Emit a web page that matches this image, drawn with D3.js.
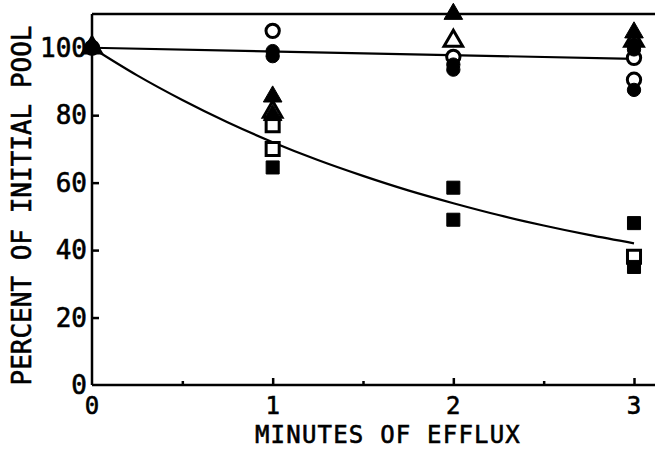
<!DOCTYPE html>
<html><head><meta charset="utf-8">
<script src="https://cdn.jsdelivr.net/npm/d3@7"></script>
<style>body{margin:0;background:#fff}svg text{font-family:"DejaVu Sans Mono",monospace;fill:#000}</style>
</head><body><svg id="c" width="660" height="450"></svg>
<script>
// ---- data ----
const xTicks = [0, 1, 2, 3];
const xMinorTicks = [0.5, 1.5, 2.5];
const yTicks = [0, 20, 40, 60, 80, 100];
const xTitle = "MINUTES OF EFFLUX";
const yTitle = "PERCENT OF INITIAL POOL";

const filledCircleX = [0, 1, 1, 2, 2, 3, 3, 3];
const filledCircleY = [100, 99, 97.5, 95, 93.5, 101, 99.5, 87.5];
const openCircleX = [0, 1, 2, 3, 3];
const openCircleY = [100, 105, 97.3, 97, 90.5];
const filledTriangleX = [0, 1, 1, 2, 3];
const filledTriangleY = [100, 85.5, 80, 110, 104.5];
const openTriangleX = [0, 1, 2, 3];
const openTriangleY = [100, 81, 102, 102];
const filledSquareX = [1, 2, 2, 3, 3];
const filledSquareY = [64.5, 58.5, 49, 48, 35];
const openSquareX = [1, 1, 3];
const openSquareY = [77, 70, 38];

// fitted lines as drawn in the picture
const upperLineX = [0, 3];
const upperLineY = [100, 96.7];
const lowerCurveX = [0, 0.25, 0.5, 0.75, 1, 1.25, 1.5, 1.75, 2, 2.25, 2.5, 2.75, 3];
const lowerCurveY = [100, 91.8, 84.5, 77.9, 72.0, 66.7, 62.0, 57.7, 53.9, 50.4, 47.3, 44.5, 42.0];

// ---- drawing ----
const svg = d3.select("#c");
const x = d3.scaleLinear().domain([0, 3]).range([92, 634]);
const y = d3.scaleLinear().domain([0, 110]).range([385, 14]);
const xEnd = 655;

const g = svg.append("g");
// frame lines
g.append("line").attr("x1", x(0)).attr("x2", xEnd).attr("y1", y(0)).attr("y2", y(0)).attr("stroke", "#000").attr("stroke-width", 2.5);
g.append("line").attr("x1", x(0)).attr("x2", xEnd).attr("y1", y(110)).attr("y2", y(110)).attr("stroke", "#000").attr("stroke-width", 2.5);
g.append("line").attr("x1", x(0)).attr("x2", x(0)).attr("y1", y(0)).attr("y2", y(110)).attr("stroke", "#000").attr("stroke-width", 2.5);

// x axis (ticks inward)
const xAxis = d3.axisTop(x).tickValues(xTicks.filter(d => d > 0)).tickSize(7).tickFormat("");
g.append("g").attr("transform", `translate(0,${y(0)})`).call(xAxis)
  .call(s => { s.select(".domain").remove(); s.selectAll("line").attr("stroke-width", 2.5); });
const xMinor = d3.axisTop(x).tickValues(xMinorTicks).tickSize(4).tickFormat("");
g.append("g").attr("transform", `translate(0,${y(0)})`).call(xMinor)
  .call(s => { s.select(".domain").remove(); s.selectAll("line").attr("stroke-width", 2.5); });
g.selectAll(".xl").data(xTicks).join("text").attr("class", "xl")
  .attr("x", d => x(d)).attr("y", 414).attr("text-anchor", "middle")
  .attr("font-size", 24).attr("stroke", "#000").attr("stroke-width", 0.6).text(d => d);

// y axis (ticks inward)
const yAxis = d3.axisRight(y).tickValues(yTicks.filter(d => d > 0)).tickSize(7).tickFormat("");
g.append("g").attr("transform", `translate(${x(0)},0)`).call(yAxis)
  .call(s => { s.select(".domain").remove(); s.selectAll("line").attr("stroke-width", 2.5); });
g.selectAll(".yl").data(yTicks).join("text").attr("class", "yl")
  .attr("x", 87).attr("y", d => y(d) + 9).attr("text-anchor", "end")
  .attr("font-size", 26).attr("stroke", "#000").attr("stroke-width", 0.6).text(d => d);

// titles
svg.append("text").attr("x", 388).attr("y", 443).attr("text-anchor", "middle")
  .attr("font-size", 24).attr("letter-spacing", 1.2).attr("stroke", "#000").attr("stroke-width", 0.6).text(xTitle);
svg.append("text").attr("transform", `translate(31,${(y(0) + 22) / 2 + 2}) rotate(-90)`).attr("text-anchor", "middle")
  .attr("font-size", 26).attr("stroke", "#000").attr("stroke-width", 0.6).text(yTitle);

// lines
const line = d3.line().x(d => x(d[0])).y(d => y(d[1])).curve(d3.curveMonotoneX);
g.append("path").attr("d", line(d3.zip(upperLineX, upperLineY))).attr("fill", "none").attr("stroke", "#000").attr("stroke-width", 2.2);
g.append("path").attr("d", line(d3.zip(lowerCurveX, lowerCurveY))).attr("fill", "none").attr("stroke", "#000").attr("stroke-width", 2.2);

// markers
function draw(xs, ys, type, filled) {
  const sym = d3.symbol().type(type).size(type === d3.symbolTriangle ? 150 : (type === d3.symbolSquare ? 170 : 140));
  g.append("g").selectAll("path").data(d3.zip(xs, ys)).join("path")
    .attr("transform", d => `translate(${x(d[0])},${y(d[1])})`)
    .attr("d", sym())
    .attr("fill", filled ? "#000" : "#fff")
    .attr("stroke", "#000").attr("stroke-width", filled ? 1 : 3);
}
draw(openCircleX, openCircleY, d3.symbolCircle, false);
draw(openSquareX, openSquareY, d3.symbolSquare, false);
draw(openTriangleX, openTriangleY, d3.symbolTriangle, false);
draw(filledCircleX, filledCircleY, d3.symbolCircle, true);
draw(filledSquareX, filledSquareY, d3.symbolSquare, true);
draw(filledTriangleX, filledTriangleY, d3.symbolTriangle, true);
</script></body></html>
